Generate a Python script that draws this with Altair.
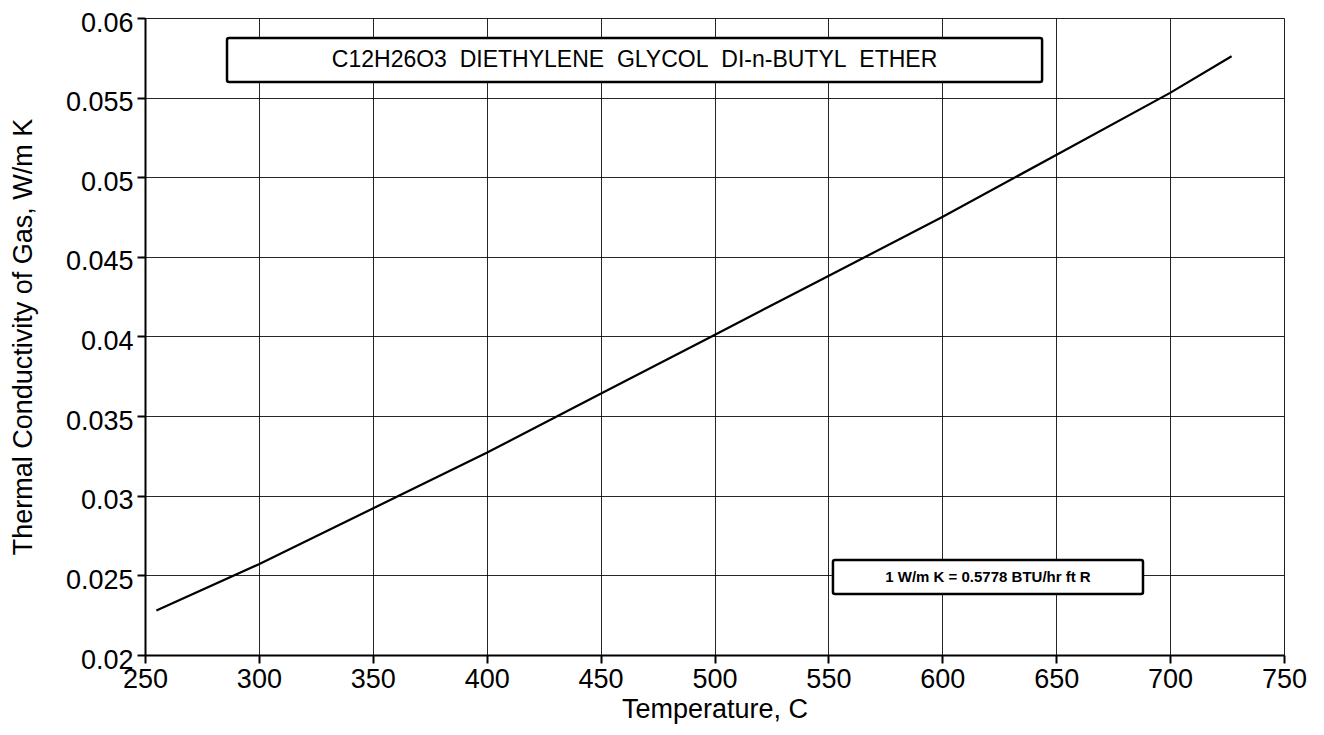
import altair as alt
import pandas as pd

# Curve values
temperature_c = [255, 300, 350, 400, 450, 500, 550, 600, 650, 700, 727]
conductivity = [0.0228, 0.0257, 0.0292, 0.0327, 0.0364, 0.0401, 0.0438, 0.0475, 0.0514, 0.0553, 0.0576]

x_ticks = [250, 300, 350, 400, 450, 500, 550, 600, 650, 700, 750]
y_ticks = [0.02, 0.025, 0.03, 0.035, 0.04, 0.045, 0.05, 0.055, 0.06]

# Annotation boxes (data units)
title_text = "C12H26O3\u00a0\u00a0DIETHYLENE\u00a0\u00a0GLYCOL\u00a0\u00a0DI-n-BUTYL\u00a0\u00a0ETHER"
title_box = dict(x=286.0, x2=643.8, y=0.05874, y2=0.05598)
note_text = "1 W/m K = 0.5778 BTU/hr ft R"
note_box = dict(x=552.0, x2=688.1, y=0.02597, y2=0.02383)

df = pd.DataFrame({"T": temperature_c, "k": conductivity})
boxes = pd.DataFrame([
    {**title_box, "label": title_text, "xc": (title_box["x"] + title_box["x2"]) / 2,
     "yc": (title_box["y"] + title_box["y2"]) / 2, "kind": "title"},
    {**note_box, "label": note_text, "xc": (note_box["x"] + note_box["x2"]) / 2,
     "yc": (note_box["y"] + note_box["y2"]) / 2, "kind": "note"},
])

FONT = "Liberation Sans"

xscale = alt.Scale(domain=[250, 750], nice=False, zero=False)
yscale = alt.Scale(domain=[0.02, 0.06], nice=False, zero=False)

xaxis = alt.Axis(values=x_ticks, title="Temperature, C", format="d",
                 labelFontSize=27, titleFontSize=27, labelFont=FONT, titleFont=FONT,
                 titleFontWeight="normal", labelColor="black", titleColor="black",
                 tickSize=8, tickColor="black", tickWidth=2, labelPadding=3, titlePadding=4,
                 domainColor="black", domainWidth=2, grid=True, gridColor="black",
                 gridWidth=1, gridOpacity=0.85, labelFlush=False)
yaxis = alt.Axis(values=y_ticks, title="Thermal Conductivity of Gas, W/m K", format="~g",
                 labelFontSize=27, titleFontSize=27, labelFont=FONT, titleFont=FONT,
                 titleFontWeight="normal", labelColor="black", titleColor="black",
                 tickSize=8, tickColor="black", tickWidth=2, labelPadding=4, titlePadding=28,
                 labelOffset=5,
                 domainColor="black", domainWidth=2, grid=True, gridColor="black",
                 gridWidth=1, gridOpacity=0.85, labelFlush=False)

line = alt.Chart(df).mark_line(color="black", strokeWidth=2.2).encode(
    x=alt.X("T:Q", scale=xscale, axis=xaxis),
    y=alt.Y("k:Q", scale=yscale, axis=yaxis),
)

rects = alt.Chart(boxes).mark_rect(fill="white", stroke="black", strokeWidth=2.5,
                                   cornerRadius=2).encode(
    x=alt.X("x:Q", scale=xscale), x2="x2:Q",
    y=alt.Y("y:Q", scale=yscale), y2="y2:Q",
)

title_lbl = alt.Chart(boxes[boxes.kind == "title"]).mark_text(
    font=FONT, fontSize=23, color="black", align="center", baseline="middle"
).encode(x=alt.X("xc:Q", scale=xscale), y=alt.Y("yc:Q", scale=yscale), text="label:N")

note_lbl = alt.Chart(boxes[boxes.kind == "note"]).mark_text(
    font=FONT, fontSize=15, fontWeight="bold", color="black", align="center", baseline="middle"
).encode(x=alt.X("xc:Q", scale=xscale), y=alt.Y("yc:Q", scale=yscale), text="label:N")

chart = alt.layer(line, rects, title_lbl, note_lbl).properties(
    width=1139, height=637,
    autosize=alt.AutoSizeParams(type="none"),
    padding={"left": 137, "top": 10, "right": 30, "bottom": 70},
).configure_view(stroke="black", strokeWidth=2).configure(background="white")

chart.save("out.html", embed_options={"renderer": "svg", "actions": False})
